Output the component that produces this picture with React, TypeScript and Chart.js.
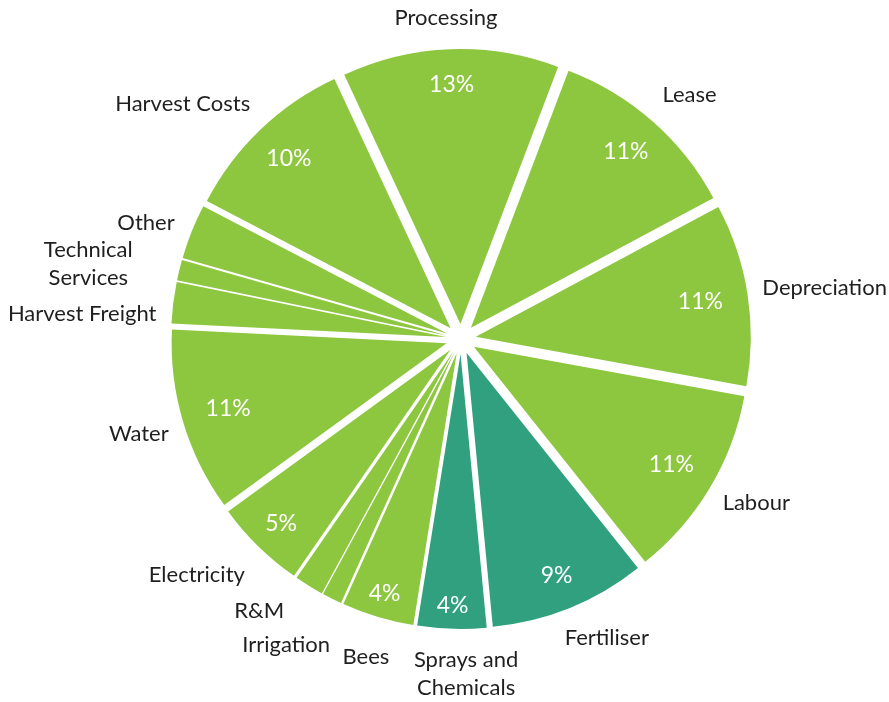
import React, { useEffect, useRef } from 'react';
import { Chart, registerables } from 'chart.js';

Chart.register(...registerables);

// ---- data ----
const categories = [
  'Processing',
  'Lease',
  'Depreciation',
  'Labour',
  'Fertiliser',
  'Sprays and Chemicals',
  'Bees',
  'Irrigation',
  'R&M',
  'Electricity',
  'Water',
  'Harvest Freight',
  'Technical Services',
  'Other',
  'Harvest Costs',
];

const shares = [12.6, 11.3, 10.6, 11.3, 9.1, 4.0, 4.2, 1.15, 1.7, 5.3, 10.7, 2.4, 1.2, 3.2, 10.3];

const labelLines = [
  ['Processing'],
  ['Lease'],
  ['Depreciation'],
  ['Labour'],
  ['Fertiliser'],
  ['Sprays and', 'Chemicals'],
  ['Bees'],
  ['Irrigation'],
  ['R&M'],
  ['Electricity'],
  ['Water'],
  ['Harvest Freight'],
  ['Technical', 'Services'],
  ['Other'],
  ['Harvest Costs'],
];

const GREEN = '#8DC63F';
const TEAL = '#31A07E';
const sliceColors = categories.map((c) =>
  c === 'Fertiliser' || c === 'Sprays and Chemicals' ? TEAL : GREEN
);

// ---- styling / layout ----
const EXPLODE = 15;
const RADIUS = 275;
const LABEL_RX = 305;
const LABEL_RY = 310;
const FONT = 'Lato, "Open Sans", sans-serif';
const LINE_H = 28;

const labelNudge: Record<string, [number, number]> = {
  Labour: [0, -6],
  'Sprays and Chemicals': [18, 0],
  Bees: [6, 10],
  Irrigation: [0, 17],
  'R&M': [-17, -3],
  Electricity: [-3, 3],
  'Harvest Freight': [-2, 17],
  'Technical Services': [-32, 10],
  Other: [-3, 7],
};

const explodedPie = {
  id: 'explodedPie',
  beforeDatasetDraw(chart: any, args: any) {
    const ctx = chart.ctx as CanvasRenderingContext2D;
    args.meta.data.forEach((el: any) => {
      const { x, y, startAngle, endAngle, outerRadius } = el.getProps(
        ['x', 'y', 'startAngle', 'endAngle', 'outerRadius'],
        true
      );
      const mid = (startAngle + endAngle) / 2;
      const ox = x + Math.cos(mid) * EXPLODE;
      const oy = y + Math.sin(mid) * EXPLODE;
      ctx.save();
      ctx.beginPath();
      ctx.moveTo(ox, oy);
      ctx.arc(ox, oy, outerRadius, startAngle, endAngle);
      ctx.closePath();
      ctx.fillStyle = el.options.backgroundColor;
      ctx.fill();
      ctx.restore();
    });
    return false;
  },
  afterDraw(chart: any) {
    const ctx = chart.ctx as CanvasRenderingContext2D;
    const meta = chart.getDatasetMeta(0);
    const total = shares.reduce((a, b) => a + b, 0);
    const clamp = (v: number) => Math.max(-1, Math.min(1, v));
    meta.data.forEach((el: any, i: number) => {
      const { x, y, startAngle, endAngle } = el.getProps(
        ['x', 'y', 'startAngle', 'endAngle'],
        true
      );
      const mid = (startAngle + endAngle) / 2;
      const ux = Math.cos(mid);
      const uy = Math.sin(mid);
      const pct = (shares[i] / total) * 100;
      ctx.save();
      ctx.textAlign = 'center';
      ctx.textBaseline = 'middle';
      if (pct >= 3.5) {
        ctx.font = `23px ${FONT}`;
        const txt = Math.round(pct) + '%';
        const tw = ctx.measureText(txt).width;
        const ext = Math.max(Math.abs(ux) * tw / 2, Math.abs(uy) * 10);
        const rp = 264.6 - ext + Math.max(0, 6 - pct) * 6;
        ctx.fillStyle = '#ffffff';
        ctx.fillText(txt, x + ux * rp, y + uy * rp);
      }
      ctx.font = `22px ${FONT}`;
      const lines = labelLines[i];
      const w = Math.max(...lines.map((l) => ctx.measureText(l).width));
      const h = 22 + (lines.length - 1) * LINE_H;
      const ax = x + ux * LABEL_RX;
      const ay = y + uy * LABEL_RY;
      let cx = ax + (clamp(ux * 2) * w) / 2;
      let cy = ay + (clamp(uy * 2) * h) / 2;
      const nd = labelNudge[categories[i]] || [0, 0];
      cx += nd[0];
      cy += nd[1];
      ctx.fillStyle = '#1f1f1f';
      lines.forEach((l, k) => {
        ctx.fillText(l, cx, cy - ((lines.length - 1) * LINE_H) / 2 + k * LINE_H);
      });
      ctx.restore();
    });
  },
};

export default function App() {
  const ref = useRef<HTMLCanvasElement | null>(null);
  useEffect(() => {
    if (!ref.current) return;
    const chart = new Chart(ref.current, {
      type: 'pie',
      data: {
        labels: categories,
        datasets: [
          {
            data: shares,
            backgroundColor: sliceColors,
            borderWidth: 0,
          },
        ],
      },
      options: {
        responsive: false,
        animation: false,
        devicePixelRatio: 1,
        events: [],
        rotation: -25,
        radius: RADIUS,
        layout: { padding: { left: 40, right: 7, top: 20, bottom: 44 } },
        plugins: {
          legend: { display: false },
          tooltip: { enabled: false },
        },
      } as any,
      plugins: [explodedPie],
    });
    return () => chart.destroy();
  }, []);
  return (
    <div
      style={{
        position: 'fixed',
        left: 0,
        top: 0,
        width: 889,
        height: 702,
        background: '#ffffff',
      }}
    >
      <canvas ref={ref} width={889} height={702} />
    </div>
  );
}
